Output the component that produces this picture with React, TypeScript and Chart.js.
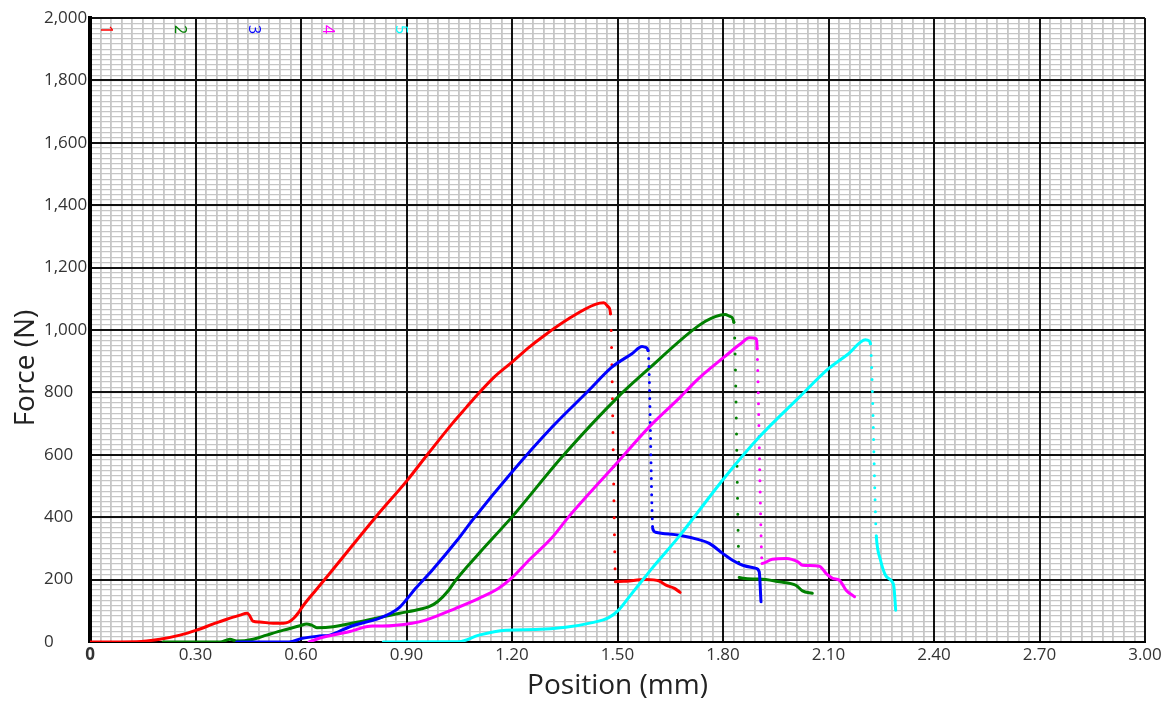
import React, { useEffect, useRef } from "react";
import { Chart, registerables } from "chart.js";

Chart.register(...registerables);

// ---------- data ----------
const seriesNames = ["1", "2", "3", "4", "5"];

const xTickLabels = ["0", "0.30", "0.60", "0.90", "1.20", "1.50", "1.80", "2.10", "2.40", "2.70", "3.00"];
const yTickLabels = ["0", "200", "400", "600", "800", "1,000", "1,200", "1,400", "1,600", "1,800", "2,000"];

// Series 1 (red)
const redPos = [0, 0.133, 0.199, 0.256, 0.303, 0.351, 0.389, 0.427, 0.446, 0.453, 0.463, 0.483, 0.521, 0.55, 0.565, 0.58, 0.592, 0.604, 0.642, 0.689, 0.812, 0.902, 0.959, 1.03, 1.07, 1.101, 1.15, 1.2, 1.25, 1.295, 1.361, 1.437, 1.461, 1.475, 1.48, 1.493, 1.494, 1.525, 1.58, 1.619, 1.638, 1.662, 1.678];
const redForce = [0, 1, 9, 22, 38, 58, 73, 86, 92, 86, 67, 64, 60, 60, 64, 77, 93, 113, 166, 230, 400, 518, 600, 700, 752, 792, 850, 897, 946, 985, 1036, 1082, 1087, 1073, 1052, 240, 193, 195, 200, 195, 182, 172, 159];
const redBreak = 34;

// Series 2 (green)
const greenPos = [0.208, 0.37, 0.398, 0.417, 0.464, 0.502, 0.55, 0.597, 0.616, 0.63, 0.645, 0.692, 0.787, 0.881, 0.938, 0.964, 0.988, 1.02, 1.04, 1.106, 1.2, 1.342, 1.501, 1.589, 1.712, 1.75, 1.778, 1.806, 1.821, 1.831, 1.844, 1.846, 1.903, 1.96, 2.007, 2.026, 2.054];
const greenForce = [0, 0, 9, 3, 9, 22, 38, 52, 58, 54, 46, 49, 70, 92, 105, 113, 129, 166, 198, 284, 401, 593, 785, 876, 998, 1028, 1043, 1050, 1043, 1025, 295, 207, 202, 193, 182, 164, 156];
const greenBreak = 29;

// Series 3 (blue)
const bluePos = [0.417, 0.566, 0.604, 0.652, 0.682, 0.739, 0.822, 0.855, 0.881, 0.9, 0.926, 0.973, 1.044, 1.087, 1.2, 1.314, 1.418, 1.484, 1.541, 1.57, 1.579, 1.587, 1.599, 1.6, 1.608, 1.676, 1.731, 1.761, 1.799, 1.827, 1.856, 1.894, 1.903, 1.908];
const blueForce = [0, 0, 12, 19, 22, 49, 76, 92, 112, 136, 172, 230, 326, 390, 545, 689, 806, 881, 924, 947, 945, 934, 390, 364, 352, 342, 328, 316, 284, 262, 246, 236, 225, 129];
const blueBreak = 21;

// Series 4 (magenta)
const magentaPos = [0.623, 0.652, 0.736, 0.803, 0.831, 0.916, 0.954, 1.04, 1.106, 1.162, 1.2, 1.248, 1.314, 1.361, 1.501, 1.589, 1.674, 1.731, 1.802, 1.85, 1.875, 1.894, 1.897, 1.91, 1.911, 1.94, 1.98, 2.013, 2.026, 2.074, 2.093, 2.112, 2.131, 2.15, 2.174];
const magentaForce = [0, 12, 33, 51, 51, 60, 70, 108, 140, 172, 206, 262, 335, 401, 577, 688, 780, 845, 912, 956, 975, 972, 940, 268, 252, 265, 268, 257, 246, 243, 220, 204, 198, 166, 145];
const magentaBreak = 22;

// Series 5 (cyan)
const cyanPos = [0.834, 1.049, 1.106, 1.182, 1.267, 1.352, 1.428, 1.475, 1.503, 1.541, 1.579, 1.598, 1.674, 1.806, 1.903, 2.017, 2.1, 2.157, 2.205, 2.214, 2.219, 2.235, 2.236, 2.248, 2.262, 2.281, 2.286, 2.291];
const cyanForce = [0, 1, 22, 38, 40, 47, 62, 78, 102, 156, 209, 236, 337, 529, 657, 785, 876, 924, 969, 966, 956, 360, 337, 262, 214, 193, 177, 102];
const cyanBreak = 20;

const allPos = [redPos, greenPos, bluePos, magentaPos, cyanPos];
const allForce = [redForce, greenForce, blueForce, magentaForce, cyanForce];
const allBreaks = [redBreak, greenBreak, blueBreak, magentaBreak, cyanBreak];

// ---------- styles ----------
const seriesColors = ["#ff0000", "#008000", "#0000ff", "#ff00ff", "#00ffff"];
const dotGaps = [17, 16, 8, 11, 12];
const FONT = '"Open Sans", "Noto Sans", sans-serif';

const xMajor = xTickLabels.map((s) => Number(s));
const yMajor = yTickLabels.map((s) => Number(s.replace(/,/g, "")));
const xMinor = Array.from({ length: 101 }, (_, i) => (i * 3) / 100);
const yMinor = Array.from({ length: 121 }, (_, i) => (i * 2000) / 120);

const labelsPlugin = {
  id: "customText",
  afterDraw(chart: any) {
    const { ctx, chartArea } = chart;
    ctx.save();
    ctx.fillStyle = "#222";
    ctx.font = `28px ${FONT}`;
    ctx.textAlign = "center";
    ctx.textBaseline = "alphabetic";
    ctx.fillText("Position (mm)", (chartArea.left + chartArea.right) / 2, 694);
    ctx.save();
    ctx.translate(34, 368);
    ctx.rotate(-Math.PI / 2);
    ctx.fillText("Force (N)", 0, 0);
    ctx.restore();
    ctx.font = `16px ${FONT}`;
    ctx.textBaseline = "middle";
    seriesNames.forEach((name, i) => {
      ctx.save();
      ctx.translate(chartArea.left + 16 + i * 73.75, chartArea.top + 11.5);
      ctx.rotate(Math.PI / 2);
      ctx.fillStyle = seriesColors[i];
      ctx.fillText(name, 0, 0);
      ctx.restore();
    });
    ctx.restore();
  },
};

export default function App() {
  const canvasRef = useRef<HTMLCanvasElement | null>(null);

  useEffect(() => {
    document.body.style.margin = "0";
    const canvas = canvasRef.current;
    if (!canvas) return;

    const datasets = seriesNames.map((name, si) => ({
      label: name,
      data: allPos[si].map((x, i) => ({ x, y: allForce[si][i] })),
      borderColor: seriesColors[si],
      backgroundColor: seriesColors[si],
      borderWidth: 3,
      borderCapStyle: "round" as const,
      borderJoinStyle: "round" as const,
      pointRadius: 0,
      pointHoverRadius: 0,
      cubicInterpolationMode: "monotone" as const,
      fill: false,
      order: seriesNames.length - 1 - si,
      xAxisID: "x",
      yAxisID: "y",
      segment: {
        borderDash: (ctx: any) =>
          ctx.p0DataIndex === allBreaks[si] || ctx.p0DataIndex === allBreaks[si] + 1
            ? [0, dotGaps[si]]
            : undefined,
      },
    }));

    const chart = new Chart(canvas, {
      type: "line",
      data: { datasets },
      options: {
        animation: false,
        responsive: false,
        events: [],
        layout: { padding: { top: 18, right: 28, left: 44, bottom: 0 } },
        plugins: { legend: { display: false }, tooltip: { enabled: false }, title: { display: false } },
        scales: {
          xMinor: {
            type: "linear",
            position: "bottom",
            min: 0,
            max: 3,
            afterBuildTicks: (s: any) => {
              s.ticks = xMinor.map((v) => ({ value: v }));
            },
            afterFit: (s: any) => {
              s.height = 0;
            },
            ticks: { display: false, autoSkip: false },
            border: { display: false },
            grid: { color: "#c6c6c6", lineWidth: 1.8, drawTicks: false, z: -2 },
          },
          yMinor: {
            type: "linear",
            position: "left",
            min: 0,
            max: 2000,
            afterBuildTicks: (s: any) => {
              s.ticks = yMinor.map((v) => ({ value: v }));
            },
            afterFit: (s: any) => {
              s.width = 0;
            },
            ticks: { display: false, autoSkip: false },
            border: { display: false },
            grid: { color: "#c6c6c6", lineWidth: 1.2, drawTicks: false, z: -2 },
          },
          x: {
            type: "linear",
            position: "bottom",
            min: 0,
            max: 3,
            afterBuildTicks: (s: any) => {
              s.ticks = xMajor.map((v) => ({ value: v }));
            },
            afterFit: (s: any) => {
              s.height = 60;
            },
            ticks: {
              autoSkip: false,
              maxRotation: 0,
              minRotation: 0,
              padding: 3,
              color: "#333",
              font: (ctx: any) => ({ family: FONT, size: 17, weight: ctx.index === 0 ? "bold" : "normal" }),
              callback: (_v: any, i: number) => xTickLabels[i],
            },
            grid: { color: "#111", lineWidth: 2, drawTicks: false, z: -1 },
            border: { color: "#000", width: 2 },
          },
          y: {
            type: "linear",
            position: "left",
            min: 0,
            max: 2000,
            afterBuildTicks: (s: any) => {
              s.ticks = yMajor.map((v) => ({ value: v }));
            },
            afterFit: (s: any) => {
              s.width = 46;
            },
            ticks: {
              autoSkip: false,
              crossAlign: "far",
              padding: 3,
              color: "#333",
              font: { family: FONT, size: 17 },
              callback: (_v: any, i: number) => yTickLabels[i],
            },
            grid: { color: "#111", lineWidth: 2, drawTicks: false, z: -1 },
            border: { color: "#000", width: 4 },
          },
        },
      } as any,
      plugins: [labelsPlugin],
    });

    return () => chart.destroy();
  }, []);

  return (
    <div style={{ width: 1173, height: 702, background: "#fff" }}>
      <canvas ref={canvasRef} width={1173} height={702} style={{ display: "block" }} />
    </div>
  );
}
